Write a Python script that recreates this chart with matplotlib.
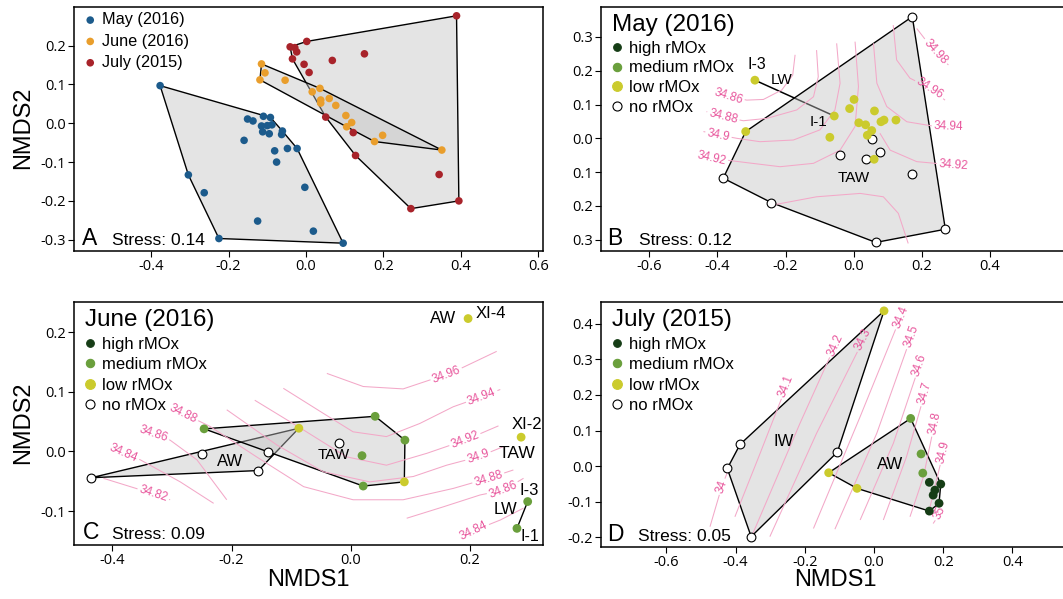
import numpy as np
import matplotlib.pyplot as plt
from matplotlib.contour import ContourSet
from matplotlib.lines import Line2D
from matplotlib.patches import Polygon

plt.rcParams['font.family'] = ['Liberation Sans', 'DejaVu Sans']
plt.rcParams['axes.unicode_minus'] = False

# ---- panel A: all samples, one colour per cruise
may_x = [-0.377, -0.304, -0.263, -0.225, -0.125, 0.019, 0.096, -0.003, -0.076, -0.081, -0.048, -0.023,
         -0.160, -0.151, -0.137, -0.110, -0.092, -0.115, -0.100, -0.088, -0.112, -0.095, -0.061, -0.063]
may_y = [0.097, -0.133, -0.179, -0.297, -0.252, -0.278, -0.309, -0.165, -0.100, -0.071, -0.065, -0.065,
         -0.044, 0.011, 0.006, 0.018, 0.015, -0.007, -0.006, -0.004, -0.022, -0.027, -0.020, -0.029]
jun_x = [-0.115, -0.106, -0.119, -0.054, 0.016, 0.036, 0.038, 0.038, 0.060, 0.077, 0.103, 0.118, 0.105, 0.177, 0.198, 0.351]
jun_y = [0.153, 0.130, 0.112, 0.111, 0.081, 0.090, 0.060, 0.052, 0.064, 0.046, 0.020, 0.002, -0.009, -0.047, -0.031, -0.069]
jul_x = [0.389, 0.002, -0.041, -0.029, -0.024, -0.035, -0.005, 0.008, 0.068, 0.151, 0.051, 0.122, 0.128, 0.344, 0.271, 0.395]
jul_y = [0.277, 0.211, 0.197, 0.195, 0.184, 0.166, 0.152, 0.131, 0.162, 0.179, 0.016, -0.024, -0.083, -0.132, -0.220, -0.200]

# ---- panel B: May 2016
b_x = [0.172, -0.383, -0.242, 0.065, 0.269, 0.170, -0.039, 0.035, 0.077, 0.054,
       -0.290, -0.057, -0.317, -0.070, 0.001, -0.012, 0.061, 0.124, 0.089, 0.080, 0.015, 0.035, 0.053, 0.040, 0.060]
b_y = [0.360, -0.118, -0.190, -0.308, -0.269, -0.106, -0.048, -0.061, -0.040, -0.003,
       0.172, 0.066, 0.020, 0.003, 0.115, 0.088, 0.081, 0.054, 0.054, 0.049, 0.046, 0.040, 0.023, 0.009, -0.062]
b_cls = ['no'] * 10 + ['low'] * 15
b_mass = ['TAW'] * 10 + ['LW', 'LW'] + ['TAW'] * 13

b_lev = [34.86, 34.88, 34.9, 34.92, 34.92, 34.92, 34.94, 34.96, 34.98]
b_lines = [
    [(-0.172, 0.247), (-0.179, 0.187), (-0.211, 0.143), (-0.265, 0.115), (-0.314, 0.113), (-0.368, 0.125), (-0.412, 0.143)],
    [(-0.109, 0.261), (-0.104, 0.182), (-0.118, 0.123), (-0.167, 0.084), (-0.255, 0.059), (-0.324, 0.052), (-0.383, 0.064), (-0.432, 0.079)],
    [(-0.050, 0.281), (-0.040, 0.163), (-0.055, 0.084), (-0.099, 0.025), (-0.177, -0.005), (-0.275, -0.010), (-0.343, 0.000), (-0.397, 0.010), (-0.441, 0.020)],
    [(0.004, 0.286), (0.014, 0.153), (0.004, 0.035), (-0.040, -0.035), (-0.118, -0.074), (-0.216, -0.084), (-0.314, -0.072), (-0.417, -0.059), (-0.461, -0.044)],
    [(0.077, 0.015), (0.107, -0.035), (0.185, -0.069), (0.293, -0.079), (0.341, -0.082)],
    [(-0.236, -0.197), (-0.109, -0.173), (0.019, -0.163), (0.087, -0.173), (0.131, -0.222), (0.160, -0.311)],
    [(0.058, 0.281), (0.068, 0.163), (0.097, 0.094), (0.156, 0.049), (0.234, 0.036), (0.278, 0.035), (0.322, 0.033)],
    [(0.116, 0.335), (0.126, 0.232), (0.165, 0.178), (0.224, 0.148), (0.268, 0.113)],
    [(0.185, 0.325), (0.234, 0.261), (0.278, 0.217)],
]
b_labpos = [(-0.368, 0.125), (-0.383, 0.064), (-0.397, 0.010), (-0.417, -0.059), (0.293, -0.079),
            (0.278, 0.035), (0.224, 0.148), (0.239, 0.255)]

# ---- panel C: June 2016
c_x = [-0.435, -0.249, -0.155, -0.138, -0.019,
       -0.246, 0.041, 0.091, 0.019, 0.021, 0.297, 0.279,
       -0.087, 0.090, 0.197, 0.286]
c_y = [-0.044, -0.004, -0.032, -0.001, 0.015,
       0.038, 0.059, 0.019, -0.007, -0.058, -0.084, -0.129,
       0.039, -0.051, 0.223, 0.024]
c_cls = ['no'] * 5 + ['medium'] * 7 + ['low'] * 4
c_mass = ['AW', 'AW', 'AW', 'AW', 'TAW', 'TAW', 'TAW', 'TAW', 'TAW', 'TAW', 'LW', 'LW', 'AW', 'TAW', 'AW2', 'TAW2']

c_lev = [34.96, 34.94, 34.92, 34.9, 34.88, 34.86, 34.86, 34.84, 34.84, 34.82]
c_lines = [
    [(-0.040, 0.131), (0.021, 0.109), (0.088, 0.105), (0.133, 0.120), (0.161, 0.128), (0.245, 0.168)],
    [(-0.113, 0.106), (-0.046, 0.064), (0.004, 0.033), (0.060, 0.025), (0.116, 0.047), (0.172, 0.075), (0.220, 0.092), (0.251, 0.104)],
    [(-0.161, 0.086), (-0.079, 0.036), (-0.007, -0.009), (0.060, -0.023), (0.128, -0.003), (0.192, 0.019), (0.248, 0.043)],
    [(-0.208, 0.070), (-0.124, 0.011), (-0.046, -0.034), (0.032, -0.051), (0.105, -0.042), (0.161, -0.023), (0.214, -0.009), (0.256, 0.008)],
    [(-0.303, 0.075), (-0.281, 0.064), (-0.236, 0.042), (-0.158, -0.009), (-0.079, -0.059), (0.004, -0.081), (0.088, -0.081), (0.172, -0.062), (0.231, -0.045), (0.273, -0.031)],
    [(-0.353, 0.036), (-0.331, 0.029), (-0.303, 0.019), (-0.258, -0.014), (-0.208, -0.081)],
    [(0.094, -0.112), (0.155, -0.093), (0.217, -0.073), (0.256, -0.065), (0.290, -0.045)],
    [(-0.404, 0.008), (-0.381, -0.003), (-0.353, -0.014), (-0.286, -0.051), (-0.230, -0.087)],
    [(0.183, -0.146), (0.206, -0.133), (0.251, -0.115), (0.290, -0.095)],
    [(-0.415, -0.045), (-0.331, -0.071), (-0.303, -0.081)],
]
c_labpos = [(0.161, 0.128), (0.220, 0.092), (0.192, 0.019), (0.214, -0.009), (0.231, -0.045),
            (-0.281, 0.064), (-0.331, 0.029), (0.256, -0.065), (-0.381, -0.003), (0.206, -0.133), (-0.331, -0.071)]

# ---- panel D: July 2015
d_x = [-0.387, -0.424, -0.355, -0.106,
       0.029, -0.131, -0.049,
       0.106, 0.136, 0.141,
       0.160, 0.193, 0.176, 0.171, 0.188, 0.160]
d_y = [0.061, -0.007, -0.199, 0.039,
       0.437, -0.019, -0.063,
       0.134, 0.034, -0.020,
       -0.046, -0.051, -0.068, -0.082, -0.105, -0.127]
d_cls = ['no'] * 4 + ['low'] * 3 + ['medium'] * 3 + ['high'] * 6
d_mass = ['IW'] * 5 + ['AW'] * 11

d_lev = [34.0, 34.1, 34.2, 34.3, 34.4, 34.5, 34.6, 34.7, 34.8, 34.9, 35.0]
d_lines = [
    [(-0.474, -0.171), (-0.440, -0.058), (-0.421, -0.011)],
    [(-0.402, -0.143), (-0.329, 0.036), (-0.248, 0.238)],
    [(-0.354, -0.199), (-0.214, 0.120), (-0.103, 0.360)],
    [(-0.301, -0.199), (-0.166, 0.092), (-0.021, 0.374)],
    [(-0.175, -0.176), (-0.040, 0.139), (0.085, 0.439)],
    [(-0.113, -0.178), (0.008, 0.092), (0.114, 0.383)],
    [(-0.040, -0.152), (0.056, 0.064), (0.138, 0.303)],
    [(0.027, -0.152), (0.094, 0.026), (0.152, 0.223)],
    [(0.104, -0.143), (0.143, -0.030), (0.179, 0.139)],
    [(0.162, -0.115), (0.181, -0.039), (0.205, 0.059)],
    [(0.171, -0.162), (0.191, -0.133), (0.200, -0.105)],
]
d_labpos = [(-0.440, -0.058), (-0.254, 0.225), (-0.111, 0.340), (-0.030, 0.355), (0.077, 0.420),
            (0.107, 0.365), (0.131, 0.285), (0.146, 0.205), (0.174, 0.120), (0.200, 0.040), (0.191, -0.133)]

pal_cruise = {'May (2016)': '#1c5b8c', 'June (2016)': '#e99e2c', 'July (2015)': '#a8232a'}
pal_rmox = {'high': '#163d16', 'medium': '#6a9f3c', 'low': '#cbcb2d', 'no': 'white'}
rmox_names = {'high': 'high rMOx', 'medium': 'medium rMOx', 'low': 'low rMOx', 'no': 'no rMOx'}
HULL_FACE = (0.76, 0.76, 0.76, 0.43)
PINK_LINE = '#f3a8c8'
PINK_TEXT = '#e8569c'


def convex_hull(px, py):
    pts = sorted(set(zip(px, py)))
    if len(pts) < 3:
        return pts

    def cross(o, a, b):
        return (a[0] - o[0]) * (b[1] - o[1]) - (a[1] - o[1]) * (b[0] - o[0])

    lower, upper = [], []
    for p in pts:
        while len(lower) >= 2 and cross(lower[-2], lower[-1], p) <= 0:
            lower.pop()
        lower.append(p)
    for p in reversed(pts):
        while len(upper) >= 2 and cross(upper[-2], upper[-1], p) <= 0:
            upper.pop()
        upper.append(p)
    return lower[:-1] + upper[:-1]


def draw_hull(ax, px, py):
    h = convex_hull(px, py)
    if len(h) >= 3:
        ax.add_patch(Polygon(h, closed=True, facecolor=HULL_FACE, edgecolor='black', lw=1.0, zorder=1.5))
    elif len(h) == 2:
        ax.plot([h[0][0], h[1][0]], [h[0][1], h[1][1]], color='black', lw=1.0, zorder=1.2)


def setup(ax, xlim, ylim, xt, yt, ylabels=None):
    ax.set_xlim(xlim)
    ax.set_ylim(ylim)
    ax.set_xticks(xt)
    ax.set_xticklabels([f"{v:.1f}".replace('-0.0', '0.0') for v in xt], family='Open Sans', fontsize=10.5)
    ax.set_yticks(yt)
    if ylabels is None:
        ylabels = [f"{v:.1f}".replace('-0.0', '0.0') for v in yt]
    ax.set_yticklabels(ylabels, family='Open Sans', fontsize=10.5)
    ax.tick_params(direction='out', length=4, width=0.8, pad=2)
    for s in ax.spines.values():
        s.set_linewidth(1.1)


def contours(ax, levels, lines, labpos):
    uniq = sorted(set(levels))
    allsegs = [[np.array(ln) for lv, ln in zip(levels, lines) if lv == u] for u in uniq]
    cs = ContourSet(ax, uniq, allsegs, colors=PINK_LINE, linewidths=0.75, zorder=2)
    ax.clabel(cs, manual=labpos, inline=True, inline_spacing=2, fontsize=8.5, colors=PINK_TEXT,
              fmt=lambda v: f"{v:g}")


def rmox_panel(ax, px, py, cls, mass, hull_order, title, spacing=0.27):
    px = np.array(px)
    py = np.array(py)
    cls = np.array(cls)
    mass = np.array(mass)
    for m in hull_order:
        sel = mass == m
        draw_hull(ax, px[sel], py[sel])
    for c in ['no', 'low', 'medium', 'high']:
        sel = cls == c
        if sel.any():
            ax.scatter(px[sel], py[sel], s=40, color=pal_rmox[c],
                       edgecolor='black' if c == 'no' else 'none', linewidth=0.8, zorder=4)
    handles = [Line2D([], [], marker='o', ls='none', mfc=pal_rmox[c],
                      mec='black' if c == 'no' else pal_rmox[c], mew=0.8, ms=ms)
               for c, ms in [('high', 5.5), ('medium', 6), ('low', 7), ('no', 6.5)]]
    dx = 3.5 / ax.get_window_extent().width
    leg = ax.legend(handles, [rmox_names[c] for c in ['high', 'medium', 'low', 'no']], title=title,
                    loc='upper left', bbox_to_anchor=(dx, 1.0), frameon=False, borderaxespad=0.3,
                    borderpad=0.15, handlelength=0.6, handletextpad=0.44, labelspacing=spacing,
                    fontsize=12, title_fontsize=17.5, alignment='left')
    leg.set_zorder(6)


def panel_tag(ax, letter, stress, xl, xs):
    ax.text(xl, 0.025, letter, transform=ax.transAxes, fontsize=16.5, va='baseline', ha='left', zorder=6)
    ax.text(xs, 0.025, f"Stress: {stress}", transform=ax.transAxes, fontsize=12.5, va='baseline', ha='left', zorder=6)


fig = plt.figure(figsize=(10.63, 5.99), dpi=100)
W, H = 1063.0, 599.0


def add_ax(l, r, t, b):
    return fig.add_axes([l / W, 1 - b / H, (r - l) / W, (b - t) / H])


# A
axA = add_ax(74, 543, 7, 250.7)
setup(axA, (-0.5995, 0.6124), (-0.3284, 0.2997), [-0.4, -0.2, 0.0, 0.2, 0.4, 0.6], [-0.3, -0.2, -0.1, 0.0, 0.1, 0.2])
draw_hull(axA, may_x, may_y)
draw_hull(axA, jul_x, jul_y)
draw_hull(axA, jun_x, jun_y)
for name, xs, ys in [('May (2016)', may_x, may_y), ('June (2016)', jun_x, jun_y), ('July (2015)', jul_x, jul_y)]:
    axA.scatter(xs, ys, s=30, color=pal_cruise[name], edgecolor='none', zorder=4, label=name)
axA.legend(loc='upper left', bbox_to_anchor=(6 / 469, 1.0), frameon=False, fontsize=11.7, borderaxespad=0.2,
           borderpad=0.13, handlelength=0.6, handletextpad=0.41, labelspacing=0.39, scatterpoints=1)
panel_tag(axA, 'A', '0.14', 0.018, 0.080)

# B
axB = add_ax(601, 1070, 7, 250.7)
setup(axB, (-0.7417, 0.6349), (-0.3325, 0.3885), [-0.6, -0.4, -0.2, 0.0, 0.2, 0.4],
      [-0.3, -0.2, -0.1, 0.0, 0.1, 0.2, 0.3], ['0.3', '0.2', '0.1', '0.0', '0.1', '0.2', '0.3'])
bx = np.array(b_x)
by = np.array(b_y)
bm = np.array(b_mass)
axB.plot(bx[bm == 'LW'], by[bm == 'LW'], color='black', lw=1.1, zorder=1.2)
contours(axB, b_lev, b_lines, b_labpos)
rmox_panel(axB, b_x, b_y, b_cls, ['none' if m == 'LW' else m for m in b_mass], ['TAW'], 'May (2016)')
axB.text(-0.285, 0.217, 'I-3', fontsize=11.5, ha='center', va='center', zorder=5)
axB.text(-0.211, 0.172, 'LW', fontsize=11, ha='center', va='center', zorder=5)
axB.text(-0.104, 0.049, 'I-1', fontsize=11, ha='center', va='center', zorder=5)
axB.text(-0.001, -0.118, 'TAW', fontsize=11, ha='center', va='center', zorder=5)
panel_tag(axB, 'B', '0.12', 0.014, 0.080)

# C
axC = add_ax(74, 543, 301.7, 545)
setup(axC, (-0.4643, 0.3227), (-0.1569, 0.2513), [-0.4, -0.2, 0.0, 0.2], [-0.1, 0.0, 0.1, 0.2])
contours(axC, c_lev, c_lines, c_labpos)
rmox_panel(axC, c_x, c_y, c_cls, c_mass, ['AW', 'LW', 'TAW'], 'June (2016)', spacing=0.33)
for txt, tx, ty, fs in [('AW', -0.203, -0.017, 12), ('TAW', -0.029, -0.006, 11), ('AW', 0.155, 0.223, 12),
                        ('XI-4', 0.235, 0.231, 12), ('XI-2', 0.295, 0.046, 12), ('TAW', 0.279, -0.003, 12.5),
                        ('I-3', 0.300, -0.065, 12), ('LW', 0.259, -0.098, 12), ('I-1', 0.300, -0.142, 11.5)]:
    axC.text(tx, ty, txt, fontsize=fs, ha='center', va='center', zorder=5)
panel_tag(axC, 'C', '0.09', 0.019, 0.080)

# D
axD = add_ax(601, 1070, 301.7, 546.7)
setup(axD, (-0.789, 0.5665), (-0.2273, 0.4628), [-0.6, -0.4, -0.2, 0.0, 0.2, 0.4],
      [-0.2, -0.1, 0.0, 0.1, 0.2, 0.3, 0.4])
contours(axD, d_lev, d_lines, d_labpos)
rmox_panel(axD, d_x, d_y, d_cls, d_mass, ['IW', 'AW'], 'July (2015)', spacing=0.33)
axD.text(-0.262, 0.068, 'IW', fontsize=12, ha='center', va='center', zorder=5)
axD.text(0.046, 0.003, 'AW', fontsize=12, ha='center', va='center', zorder=5)
panel_tag(axD, 'D', '0.05', 0.014, 0.079)

fig.text(23 / W, 1 - 128 / H, 'NMDS2', rotation=90, fontsize=17, ha='center', va='center')
fig.text(23 / W, 1 - 423 / H, 'NMDS2', rotation=90, fontsize=17, ha='center', va='center')
fig.text(308.5 / W, 1 - 580 / H, 'NMDS1', fontsize=17, ha='center', va='center')
fig.text(835 / W, 1 - 580 / H, 'NMDS1', fontsize=17, ha='center', va='center')

fig.savefig('out.png', dpi=100)
